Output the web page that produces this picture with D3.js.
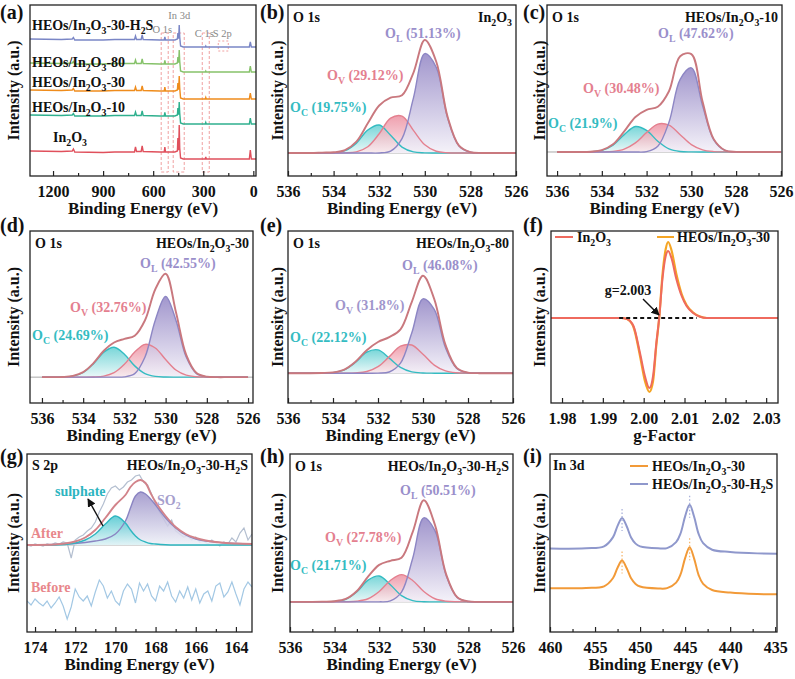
<!DOCTYPE html>
<html>
<head>
<meta charset="utf-8">
<script src="https://cdn.jsdelivr.net/npm/d3@7"></script>
<style>body{margin:0;background:#fff}</style>
</head>
<body>
<script>
// ---------------- data ----------------
// (a) survey spectra, intensities with each trace's offset included
var surveyE = [1338, 1150, 1085, 1078, 1070, 900, 830, 712, 706, 700, 672, 666, 660, 560, 534, 530, 526, 470, 455, 452, 449, 447, 444, 441, 436, 420, 300, 288, 285, 282, 100, 24, 18, 12, -16];
var surveyIn2O3 = [25, 24.5, 25, 27, 24, 23.5, 24, 24, 29, 24.5, 24.5, 30, 24.5, 24, 24, 29, 24, 24, 25, 38, 26, 27, 51, 28, 18, 17, 17, 17, 19, 17, 17, 17, 26, 17, 17];
var survey10 = [61, 60.5, 61, 62.5, 60, 60, 60.5, 60.5, 64, 60.5, 60.5, 65, 60.5, 60, 60, 63.5, 60, 60, 61, 68, 62, 62, 74, 63, 53, 52, 52, 52, 53.5, 52, 52, 52, 58, 52, 52];
var survey30 = [86, 85.5, 86, 87.5, 85, 85, 85.5, 85.5, 89, 85.5, 85.5, 90, 85.5, 85, 85, 89, 85, 85, 86, 93, 87, 87, 100, 88, 78, 77, 77, 77, 78.5, 77, 77, 77, 83, 77, 77];
var survey80 = [113, 112.5, 113, 114.5, 112, 112, 112.5, 112.5, 116, 112.5, 112.5, 117, 112.5, 112, 112, 115.5, 112, 112, 113, 119, 114, 114, 126, 115, 105, 104, 104, 104, 105, 104, 104, 104, 110, 104, 104];
var surveyH2S = [137, 136.5, 137, 138.5, 136, 136, 136.5, 136.5, 140, 136.5, 136.5, 141, 136.5, 136, 136, 139, 136, 136, 137, 143, 138, 138, 151, 139, 130, 129, 129, 129, 130, 129, 129, 129, 134, 129, 129];
var surveyNames = ['In_2O_3', 'HEOs/In_2O_3-10', 'HEOs/In_2O_3-30', 'HEOs/In_2O_3-80', 'HEOs/In_2O_3-30-H_2S'];
var surveyRegions = [[552, 510], [480, 414], [306, 264]];
var surveyRegionNames = ['O 1s', 'In 3d', 'C 1s', 'S 2p'];
var surveyRegionE = [545, 444, 294, 186];

// O 1s fits (relative intensity above baseline)
var oGrid = [536, 535.5, 535, 534.5, 534, 533.5, 533, 532.5, 532, 531.5, 531, 530.5, 530, 529.5, 529, 528.5, 528, 527.5, 527, 526.5, 526];
var oNames = ['O_L', 'O_V', 'O_C'];

var bOL = [0, 0, 0, 0, 0, 0, 0, 0, 0, .016, .127, .486, .88, .759, .311, .061, .006, 0, 0, 0, 0];
var bOV = [0, 0, 0, 0, 0, .001, .010, .055, .17, .308, .326, .20, .072, .015, .002, 0, 0, 0, 0, 0, 0];
var bOC = [0, 0, 0, 0, .002, .02, .087, .203, .247, .157, .052, .009, .001, 0, 0, 0, 0, 0, 0, 0, 0];
var bEnv = [0, 0, 0, .003, .006, .025, .1, .262, .42, .49, .51, .71, 1.0, .81, .32, .065, .008, 0, 0, 0, 0];
var bPct = ['51.13%', '29.12%', '19.75%'];

var cOL = [0, 0, 0, 0, 0, 0, 0, 0, .004, .056, .289, .705, .817, .451, .118, .015, .001, 0, 0, 0, 0];
var cOV = [0, 0, 0, 0, .001, .006, .028, .088, .189, .271, .261, .168, .072, .021, .004, .001, 0, 0, 0, 0, 0];
var cOC = [0, 0, 0, .002, .016, .067, .169, .247, .21, .104, .03, .005, .001, 0, 0, 0, 0, 0, 0, 0, 0];
var cEnv = [0, 0, 0, .003, .018, .075, .2, .34, .41, .44, .59, .93, .95, .49, .125, .017, .001, 0, 0, 0, 0];
var cPct = ['47.62%', '30.48%', '21.9%'];

var dOL = [0, 0, 0, 0, 0, 0, 0, 0, .003, .034, .194, .551, .78, .551, .194, .034, .003, 0, 0, 0, 0];
var dOV = [0, 0, 0, 0, 0, .002, .010, .043, .124, .242, .317, .282, .170, .069, .019, .004, .001, 0, 0, 0, 0];
var dOC = [0, 0, .001, .010, .045, .130, .242, .289, .222, .109, .034, .007, .001, 0, 0, 0, 0, 0, 0, 0, 0];
var dEnv = [0, 0, .002, .012, .048, .135, .255, .335, .37, .40, .55, .85, 1.0, .63, .215, .04, .005, 0, 0, 0, 0];
var dPct = ['42.55%', '32.76%', '24.69%'];

var eOL = [0, 0, 0, 0, 0, 0, 0, 0, .001, .012, .103, .412, .763, .654, .26, .048, .004, 0, 0, 0, 0];
var eOV = [0, 0, 0, 0, 0, 0, .003, .017, .067, .170, .277, .289, .194, .083, .023, .004, .001, 0, 0, 0, 0];
var eOC = [0, 0, 0, .001, .006, .034, .112, .215, .239, .155, .059, .013, .002, 0, 0, 0, 0, 0, 0, 0, 0];
var eEnv = [0, 0, 0, .002, .008, .037, .118, .236, .32, .37, .45, .73, 1.0, .76, .29, .055, .006, 0, 0, 0, 0];
var ePct = ['46.08%', '31.8%', '22.12%'];

var hOL = [0, 0, 0, 0, 0, 0, 0, 0, 0, .009, .095, .423, .819, .694, .258, .042, .003, 0, 0, 0, 0];
var hOV = [0, 0, 0, 0, 0, .001, .006, .030, .101, .208, .265, .208, .101, .030, .006, .001, 0, 0, 0, 0, 0];
var hOC = [0, 0, 0, 0, .004, .025, .098, .211, .252, .167, .061, .012, .001, 0, 0, 0, 0, 0, 0, 0, 0];
var hEnv = [0, 0, 0, .002, .006, .028, .106, .245, .36, .40, .43, .68, .99, .75, .27, .045, .004, 0, 0, 0, 0];
var hPct = ['50.51%', '27.78%', '21.71%'];

// (f) EPR
var eprG = [1.9773, 1.9945, 1.9959, 1.9975, 1.9991, 2.0003, 2.0014, 2.0023, 2.0031, 2.0038, 2.0046, 2.0054, 2.0060, 2.0068, 2.0080, 2.0093, 2.0105, 2.0121, 2.0138, 2.0155, 2.0329];
var eprIn2O3 = [0, 0, -1, -8, -35, -58, -70, -58, -25, 0, 39, 62, 67, 60, 39, 22, 12, 5, 1.3, 0, 0];
var eprHEO30 = [0, 0, -1, -9, -38, -63, -74, -63, -27, 0, 43, 69, 76, 68, 44, 24, 13, 5.5, 1.5, 0, 0];
var eprMark = [1.994, 2.013];

// (g) S 2p
var s2pRawE = [174.4, 174.2, 174.0, 173.8, 173.6, 173.4, 173.2, 173.0, 172.8, 172.6, 172.4, 172.2, 172.0, 171.8, 171.6, 171.4, 171.2, 171.0, 170.8, 170.6, 170.4, 170.2, 170.0, 169.8, 169.6, 169.4, 169.2, 169.0, 168.8, 168.6, 168.4, 168.2, 168.0, 167.8, 167.6, 167.4, 167.2, 167.0, 166.8, 166.6, 166.4, 166.2, 166.0, 165.8, 165.6, 165.4, 165.2, 165.0, 164.8, 164.6, 164.4, 164.2, 164.0, 163.8, 163.6, 163.4, 163.2];
var s2pBefore = [31, 27, 33, 29, 26, 31, 24, 29, 35, 26, 13, 25, 43, 35, 31, 36, 26, 40, 52, 46, 34, 41, 31, 27, 41, 48, 43, 29, 49, 41, 48, 36, 31, 46, 41, 50, 36, 30, 41, 34, 45, 32, 43, 29, 38, 41, 31, 46, 49, 35, 40, 50, 38, 27, 43, 50, 45];
var s2pAfterRaw = [87, 86, 88, 87, 86, 88, 87, 89, 88, 90, 89, 74, 92, 95, 97, 101, 104, 110, 120, 128, 138, 144, 146, 142, 145, 150, 152, 156, 157, 150, 147, 138, 128, 120, 113, 106, 112, 101, 98, 95, 96, 92, 95, 90, 91, 88, 92, 89, 86, 90, 88, 94, 90, 99, 104, 92, 98];
var s2pAfterBase = 87;
var s2pFitE = [174.4, 173, 172.5, 172, 171.5, 171, 170.5, 170, 169.5, 169.25, 169, 168.75, 168.5, 168.25, 168, 167.5, 167, 166.5, 166, 165.5, 165, 164.5, 164, 163.2];
var s2pSulphate = [0, 0, .5, 2, 5, 11, 21, 29, 22, 15, 9, 5, 3, 1.5, 1, .3, 0, 0, 0, 0, 0, 0, 0, 0];
var s2pSO2 = [0, .5, 1, 1.5, 2.5, 4, 6, 11, 24, 37, 49, 53, 51, 46, 40, 27, 17, 10, 6, 4, 3, 2, 1.5, 1];
var s2pEnvelope = [0, .5, 1.5, 3.5, 7.5, 15, 27, 40, 50, 58, 63, 65, 62, 52, 43, 29, 18, 11, 7, 4.5, 3, 2, 1.5, 1];

// (i) In 3d
var inE = [460, 456, 454, 453, 452.5, 452, 451.5, 451, 450.5, 450, 448, 447, 446, 445.5, 445, 444.5, 444, 443.5, 443, 442, 440, 437, 434.8];
var inHEO30 = [43, 43.3, 44.9, 53.1, 63.2, 70.2, 63, 52.8, 47.3, 44.7, 42.8, 43.1, 48.5, 56.8, 72.6, 83.4, 72.2, 56, 47.3, 41.3, 38.8, 37.3, 37];
var inHEO30H2S = [82, 82.4, 84.2, 93.3, 104.4, 112.2, 104.2, 93, 86.9, 84.2, 82.3, 82.5, 88.4, 97.1, 113.7, 125, 113.3, 96.4, 87.3, 80.9, 78.7, 77.3, 77];
var inPeaks = [452, 444.5];

// ---------------- layout ----------------
var layout = {
    a: {x0: 30, x1: 256, y0: 5, y1: 176},
    b: {x0: 288, x1: 516, y0: 5, y1: 176, lab: [[385, 38], [327, 80], [290, 112]]},
    c: {x0: 547, x1: 782, y0: 5, y1: 176, lab: [[658, 38], [583, 93], [548, 128]]},
    d: {x0: 30, x1: 253, y0: 231, y1: 403, lab: [[140, 268], [70, 312], [32, 340]]},
    e: {x0: 288, x1: 513, y0: 231, y1: 403, lab: [[402, 270], [335, 310], [290, 342]]},
    f: {x0: 551, x1: 778, y0: 231, y1: 403},
    g: {x0: 27, x1: 252, y0: 454, y1: 632},
    h: {x0: 290, x1: 513, y0: 454, y1: 632, lab: [[400, 495], [325, 542], [290, 570]]},
    i: {x0: 550, x1: 777, y0: 454, y1: 632}
};
var letterPos = {a: [0, 19], b: [260, 19], c: [523, 19], d: [0, 232], e: [260, 232], f: [523, 232], g: [0, 463], h: [260, 463], i: [523, 463]};
var yTitleX = [19, 283, 545];

var FONT = '"Liberation Serif","Times New Roman",Times,serif';
var colL = '#9a8fcb', colV = '#e4808f', colC = '#34bcc2', colEnv = '#c9787e';

var svg = d3.select('body').append('svg')
    .attr('width', 795).attr('height', 679)
    .attr('font-family', FONT);
var defs = svg.append('defs');

function grad(id, c1, c2) {
    var lg = defs.append('linearGradient').attr('id', id)
        .attr('x1', 0).attr('y1', 0).attr('x2', 0).attr('y2', 1);
    lg.append('stop').attr('offset', '0%').attr('stop-color', c1);
    lg.append('stop').attr('offset', '100%').attr('stop-color', c2);
}
grad('fillC', '#62cfd2', '#e6f7f7');
grad('fillV', '#ec8fa0', '#fbe9ed');
grad('fillL', '#9184c4', '#f3f0f8');
grad('fillS', '#4cc6cf', '#dff4f6');
grad('fillP', '#9a90c8', '#eef0f7');

defs.append('marker').attr('id', 'arrow')
    .attr('viewBox', '0 0 10 10').attr('refX', 9).attr('refY', 5)
    .attr('markerWidth', 6).attr('markerHeight', 6).attr('orient', 'auto')
    .append('path').attr('d', 'M0,0L10,5L0,10z').attr('fill', '#111');

// text with "_x" subscripts
function rich(t, str, fs) {
    var parts = str.split(/(_.)/).filter(function(s) { return s.length; });
    var shifted = false;
    parts.forEach(function(p) {
        if (p[0] === '_' && p.length === 2) {
            t.append('tspan').attr('font-size', fs * 0.7).attr('dy', shifted ? 0 : fs * 0.3).text(p[1]);
            shifted = true;
        } else {
            t.append('tspan').attr('dy', shifted ? -fs * 0.3 : 0).text(p);
            shifted = false;
        }
    });
}

function label(g, x, y, str, opt) {
    opt = opt || {};
    var fs = opt.size || 14;
    var t = g.append('text').attr('x', x).attr('y', y)
        .attr('font-size', fs).attr('font-weight', opt.weight || 'bold')
        .attr('fill', opt.color || '#111')
        .attr('text-anchor', opt.anchor || 'start');
    if (opt.rotate) t.attr('transform', 'rotate(-90,' + x + ',' + y + ')');
    rich(t, str, fs);
    return t;
}

function makePanel(key, xDom, yDom) {
    var L = layout[key];
    var x = d3.scaleLinear().domain(xDom).range([L.x0, L.x1]);
    var y = d3.scaleLinear().domain(yDom).range([L.y1, L.y0]);
    var g = svg.append('g');
    defs.append('clipPath').attr('id', 'clip-' + key)
        .append('rect').attr('x', L.x0).attr('y', L.y0)
        .attr('width', L.x1 - L.x0).attr('height', L.y1 - L.y0);
    var plot = g.append('g').attr('clip-path', 'url(#clip-' + key + ')');
    return {key: key, L: L, x: x, y: y, g: g, plot: plot};
}

function finishPanel(p, col, major, minor, fmt, title) {
    var L = p.L;
    p.g.append('rect').attr('x', L.x0).attr('y', L.y0)
        .attr('width', L.x1 - L.x0).attr('height', L.y1 - L.y0)
        .attr('fill', 'none').attr('stroke', '#222').attr('stroke-width', 1.3);

    var axMinor = p.g.append('g').attr('transform', 'translate(0,' + L.y1 + ')')
        .call(d3.axisBottom(p.x).tickValues(minor).tickSize(-3).tickFormat(''));
    var axMajor = p.g.append('g').attr('transform', 'translate(0,' + L.y1 + ')')
        .call(d3.axisBottom(p.x).tickValues(major).tickSize(-5).tickPadding(10).tickFormat(fmt));
    [axMinor, axMajor].forEach(function(a) {
        a.select('.domain').remove();
        a.selectAll('line').attr('stroke', '#222').attr('stroke-width', 1.2);
    });
    axMajor.attr('font-family', FONT).attr('font-size', 16).attr('font-weight', 'bold');
    axMajor.selectAll('text').attr('fill', '#111');

    label(p.g, (L.x0 + L.x1) / 2, L.y1 + 38, title, {size: 17, anchor: 'middle'});
    label(p.g, yTitleX[col], (L.y0 + L.y1) / 2, 'Intensity (a.u.)', {size: 16, anchor: 'middle', rotate: true});
    var lp = letterPos[p.key];
    label(p.g, lp[0], lp[1], '(' + p.key + ')', {size: 20});
}

var BE = 'Binding Energy (eV)';
var oMajor = [536, 534, 532, 530, 528, 526], oMinor = [535, 533, 531, 529, 527];

// ---------------- (a) survey ----------------
(function() {
    var p = makePanel('a', [1338, -16], [0, 171]);
    var yTop = 33, yBot = 172;
    surveyRegions.forEach(function(r) {
        p.plot.append('rect').attr('x', p.x(r[0])).attr('y', yTop)
            .attr('width', p.x(r[1]) - p.x(r[0])).attr('height', yBot - yTop)
            .attr('fill', 'none').attr('stroke', '#f0a0a0')
            .attr('stroke-width', 1).attr('stroke-dasharray', '3,2');
    });
    p.plot.append('rect').attr('x', p.x(210)).attr('y', p.y(135))
        .attr('width', p.x(150) - p.x(210)).attr('height', p.y(125) - p.y(135))
        .attr('fill', 'none').attr('stroke', '#f0a0a0')
        .attr('stroke-width', 1).attr('stroke-dasharray', '2,2');

    var series = [surveyIn2O3, survey10, survey30, survey80, surveyH2S];
    var colors = ['#e0505c', '#2fb08e', '#ef8c1c', '#86c26a', '#7a86c6'];
    var line = d3.line().x(function(d) { return p.x(d[0]); }).y(function(d) { return p.y(d[1]); });
    series.forEach(function(s, k) {
        p.plot.append('path').datum(surveyE.map(function(e, i) { return [e, s[i]]; }))
            .attr('d', line).attr('fill', 'none').attr('stroke', colors[k]).attr('stroke-width', 1.4);
    });

    var regY = [143, 157, 139, 139];
    surveyRegionNames.forEach(function(n, k) {
        label(p.g, p.x(surveyRegionE[k]), p.y(regY[k]), n, {size: 10.5, weight: 'normal', color: '#888', anchor: 'middle'});
    });

    var nameX = [53, 32, 32, 32, 32], nameY = [142, 112, 87, 67, 30];
    surveyNames.forEach(function(n, k) {
        label(p.g, nameX[k], nameY[k], n, {size: 14});
    });
    finishPanel(p, 0, [1200, 900, 600, 300, 0], [1050, 750, 450, 150], d3.format('d'), BE);
})();

// ---------------- O 1s panels ----------------
function drawO1s(key, col, xDom, yDom, OL, OV, OC, env, pct, name, vColor) {
    var p = makePanel(key, xDom, yDom);
    var L = p.L;
    var pts = function(arr) { return oGrid.map(function(e, i) { return [e, arr[i]]; }); };
    var area = d3.area().x(function(d) { return p.x(d[0]); })
        .y0(p.y(0)).y1(function(d) { return p.y(d[1]); }).curve(d3.curveCatmullRom);
    var line = d3.line().x(function(d) { return p.x(d[0]); })
        .y(function(d) { return p.y(d[1]); }).curve(d3.curveCatmullRom);

    p.plot.append('line').attr('x1', L.x0).attr('x2', L.x1)
        .attr('y1', p.y(0)).attr('y2', p.y(0)).attr('stroke', '#a8a8a8').attr('stroke-width', 1);

    var comps = [[OC, 'fillC', colC], [OV, 'fillV', colV], [OL, 'fillL', '#8d86c4']];
    comps.forEach(function(c) {
        p.plot.append('path').datum(pts(c[0])).attr('d', area)
            .attr('fill', 'url(#' + c[1] + ')').attr('fill-opacity', 0.85);
    });
    comps.forEach(function(c) {
        p.plot.append('path').datum(pts(c[0])).attr('d', line)
            .attr('fill', 'none').attr('stroke', c[2]).attr('stroke-width', 1.4);
    });
    p.plot.append('path').datum(pts(env)).attr('d', line)
        .attr('fill', 'none').attr('stroke', colEnv).attr('stroke-width', 1.9);

    label(p.g, L.x0 + 5, L.y0 + 17, 'O 1s');
    label(p.g, L.x1 - 4, L.y0 + 17, name, {anchor: 'end'});
    var cols = [colL, vColor, colC];
    oNames.forEach(function(n, k) {
        label(p.g, L.lab[k][0], L.lab[k][1], n + ' (' + pct[k] + ')', {color: cols[k]});
    });
    finishPanel(p, col, oMajor, oMinor, d3.format('d'), BE);
}

drawO1s('b', 1, [536, 526], [-0.204, 1.31], bOL, bOV, bOC, bEnv, bPct, 'In_2O_3', colV);
drawO1s('c', 2, [536.45, 525.95], [-0.233, 1.427], cOL, cOV, cOC, cEnv, cPct, 'HEOs/In_2O_3-10', colV);
drawO1s('d', 0, [536.58, 525.76], [-0.25, 1.413], dOL, dOV, dOC, dEnv, dPct, 'HEOs/In_2O_3-30', colV);
drawO1s('e', 1, [536, 526], [-0.306, 1.459], eOL, eOV, eOC, eEnv, ePct, 'HEOs/In_2O_3-80', '#a096cc');
drawO1s('h', 1, [536, 526], [-0.294, 1.441], hOL, hOV, hOC, hEnv, hPct, 'HEOs/In_2O_3-30-H_2S', colV);

// ---------------- (f) EPR ----------------
(function() {
    var p = makePanel('f', [1.9773, 2.0329], [-85, 87]);
    var line = d3.line().x(function(d) { return p.x(d[0]); })
        .y(function(d) { return p.y(d[1]); }).curve(d3.curveMonotoneX);
    p.plot.append('path').datum(eprG.map(function(g, i) { return [g, eprHEO30[i]]; }))
        .attr('d', line).attr('fill', 'none').attr('stroke', '#f5a524').attr('stroke-width', 2.2);
    p.plot.append('path').datum(eprG.map(function(g, i) { return [g, eprIn2O3[i]]; }))
        .attr('d', line).attr('fill', 'none').attr('stroke', '#ef6a5e').attr('stroke-width', 2);
    p.plot.append('line').attr('x1', p.x(eprMark[0])).attr('x2', p.x(eprMark[1]))
        .attr('y1', p.y(0)).attr('y2', p.y(0))
        .attr('stroke', '#111').attr('stroke-width', 1.8).attr('stroke-dasharray', '4,3');
    label(p.g, 628, 295, 'g=2.003', {anchor: 'middle'});
    p.g.append('line').attr('x1', 643).attr('y1', 299).attr('x2', 659).attr('y2', 315)
        .attr('stroke', '#111').attr('stroke-width', 1.4).attr('marker-end', 'url(#arrow)');

    p.g.append('line').attr('x1', 555).attr('x2', 573).attr('y1', 237).attr('y2', 237)
        .attr('stroke', '#ef6a5e').attr('stroke-width', 2);
    label(p.g, 577, 242, 'In_2O_3');
    p.g.append('line').attr('x1', 657).attr('x2', 674).attr('y1', 237).attr('y2', 237)
        .attr('stroke', '#f5a524').attr('stroke-width', 2);
    label(p.g, 677, 242, 'HEOs/In_2O_3-30');

    finishPanel(p, 2, [1.98, 1.99, 2.00, 2.01, 2.02, 2.03],
        [1.985, 1.995, 2.005, 2.015, 2.025], d3.format('.2f'), 'g-Factor');
})();

// ---------------- (g) S 2p ----------------
(function() {
    var p = makePanel('g', [174.4, 163.2], [0, 178]);
    var raw = d3.line().x(function(d) { return p.x(d[0]); }).y(function(d) { return p.y(d[1]); });
    var smooth = d3.line().x(function(d) { return p.x(d[0]); })
        .y(function(d) { return p.y(d[1]); }).curve(d3.curveCatmullRom);
    var area = d3.area().x(function(d) { return p.x(d[0]); })
        .y0(p.y(s2pAfterBase)).y1(function(d) { return p.y(d[1]); }).curve(d3.curveCatmullRom);
    var fit = function(arr) { return s2pFitE.map(function(e, i) { return [e, s2pAfterBase + arr[i]]; }); };

    p.plot.append('path').datum(s2pRawE.map(function(e, i) { return [e, s2pBefore[i]]; }))
        .attr('d', raw).attr('fill', 'none').attr('stroke', '#a3c8e4').attr('stroke-width', 1.2);
    p.plot.append('path').datum(s2pRawE.map(function(e, i) { return [e, s2pAfterRaw[i]]; }))
        .attr('d', raw).attr('fill', 'none').attr('stroke', '#b4bfd0').attr('stroke-width', 1.2);
    p.plot.append('line').attr('x1', p.L.x0).attr('x2', p.L.x1)
        .attr('y1', p.y(s2pAfterBase)).attr('y2', p.y(s2pAfterBase))
        .attr('stroke', '#b0b0b0').attr('stroke-width', 1);

    p.plot.append('path').datum(fit(s2pSO2)).attr('d', area).attr('fill', 'url(#fillP)').attr('fill-opacity', 0.85);
    p.plot.append('path').datum(fit(s2pSulphate)).attr('d', area).attr('fill', 'url(#fillS)').attr('fill-opacity', 0.85);
    p.plot.append('path').datum(fit(s2pSO2)).attr('d', smooth).attr('fill', 'none').attr('stroke', '#8a84c2').attr('stroke-width', 1.4);
    p.plot.append('path').datum(fit(s2pSulphate)).attr('d', smooth).attr('fill', 'none').attr('stroke', '#2fb6c0').attr('stroke-width', 1.4);
    p.plot.append('path').datum(fit(s2pEnvelope)).attr('d', smooth).attr('fill', 'none').attr('stroke', '#d2838a').attr('stroke-width', 1.9);

    label(p.g, p.L.x0 + 5, p.L.y0 + 16, 'S 2p');
    label(p.g, p.L.x1 - 4, p.L.y0 + 16, 'HEOs/In_2O_3-30-H_2S', {anchor: 'end'});
    label(p.g, 55, 496, 'sulphate', {color: '#2cb4c0'});
    label(p.g, 157, 505, 'SO_2', {color: '#a79fcd'});
    label(p.g, 31, 538, 'After', {color: '#e8878b'});
    label(p.g, 31, 592, 'Before', {color: '#e8878b'});
    p.g.append('line').attr('x1', 103).attr('y1', 526).attr('x2', 88).attr('y2', 499)
        .attr('stroke', '#111').attr('stroke-width', 1.4).attr('marker-end', 'url(#arrow)');

    finishPanel(p, 0, [174, 172, 170, 168, 166, 164], [173, 171, 169, 167, 165], d3.format('d'), BE);
})();

// ---------------- (i) In 3d ----------------
(function() {
    var p = makePanel('i', [460, 434.8], [0, 175]);
    var line = d3.line().x(function(d) { return p.x(d[0]); })
        .y(function(d) { return p.y(d[1]); }).curve(d3.curveCatmullRom);
    var sets = [[inHEO30, '#f29a38', '#f6b870'], [inHEO30H2S, '#8f98cc', '#aab2da']];
    sets.forEach(function(s) {
        p.plot.append('path').datum(inE.map(function(e, i) { return [e, s[0][i]]; }))
            .attr('d', line).attr('fill', 'none').attr('stroke', s[1]).attr('stroke-width', 2);
        inPeaks.forEach(function(pk) {
            var v = s[0][inE.indexOf(pk)];
            p.plot.append('line').attr('x1', p.x(pk)).attr('x2', p.x(pk))
                .attr('y1', p.y(v) - 9).attr('y2', p.y(v) + 13)
                .attr('stroke', s[2]).attr('stroke-width', 1.3).attr('stroke-dasharray', '1.5,2');
        });
    });
    label(p.g, p.L.x0 + 3, p.L.y0 + 16, 'In 3d');
    p.g.append('line').attr('x1', 630).attr('x2', 648).attr('y1', 466).attr('y2', 466)
        .attr('stroke', '#f29a38').attr('stroke-width', 2);
    label(p.g, 652, 471, 'HEOs/In_2O_3-30');
    p.g.append('line').attr('x1', 630).attr('x2', 648).attr('y1', 484).attr('y2', 484)
        .attr('stroke', '#8f98cc').attr('stroke-width', 2);
    label(p.g, 652, 489, 'HEOs/In_2O_3-30-H_2S');

    finishPanel(p, 2, [460, 455, 450, 445, 440, 435], [457.5, 452.5, 447.5, 442.5, 437.5], d3.format('d'), BE);
})();
</script>
</body>
</html>
